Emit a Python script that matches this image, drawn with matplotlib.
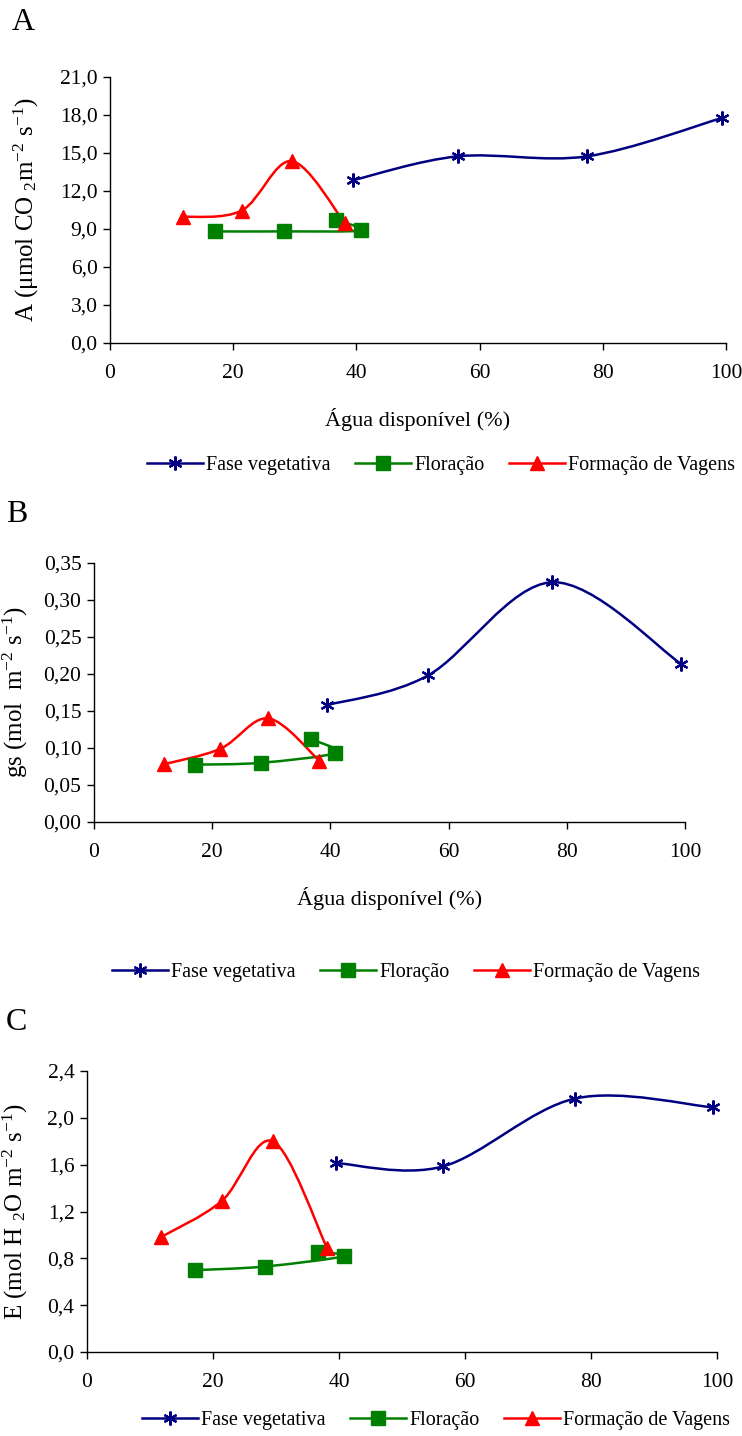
import matplotlib
matplotlib.use("Agg")
import matplotlib.pyplot as plt
from matplotlib.path import Path
from matplotlib.patches import PathPatch
from matplotlib.lines import Line2D
from matplotlib.ticker import FuncFormatter
import numpy as np

plt.rcParams['font.family'] = ['Liberation Serif', 'DejaVu Serif']
plt.rcParams['mathtext.default'] = 'regular'

# ---- data ----
series_names = ["Fase vegetativa", "Floração", "Formação de Vagens"]
x_veg = [39.5, 56.5, 77.5, 99.3]
x_flor = [17.1, 28.2, 40.8, 36.7]
x_vag = [11.8, 21.4, 29.5, 38.1]

A_veg = [12.86, 14.74, 14.74, 17.76]
A_flor = [8.81, 8.81, 8.89, 9.69]
A_vag = [9.95, 10.46, 14.36, 9.48]

gs_veg = [0.158, 0.198, 0.324, 0.214]
gs_flor = [0.0775, 0.080, 0.0935, 0.112]
gs_vag = [0.078, 0.099, 0.140, 0.083]

E_veg = [1.614, 1.585, 2.165, 2.09]
E_flor = [0.699, 0.730, 0.818, 0.855]
E_vag = [0.983, 1.29, 1.80, 0.889]

x_ticks = [0, 20, 40, 60, 80, 100]
A_ticks = [0, 3, 6, 9, 12, 15, 18, 21]
gs_ticks = [0, 0.05, 0.10, 0.15, 0.20, 0.25, 0.30, 0.35]
E_ticks = [0, 0.4, 0.8, 1.2, 1.6, 2.0, 2.4]

colors = ["#000080", "#008000", "#FF0000"]
markers = [(6, 2, 0), "s", "^"]
msizes = [10, 9.5, 10.5]


def smooth_path(xs, ys):
    P = np.column_stack([xs, ys]).astype(float)
    n = len(P)
    verts = [P[0]]
    codes = [Path.MOVETO]
    for i in range(n - 1):
        p0 = P[i - 1] if i > 0 else P[i]
        p1 = P[i]
        p2 = P[i + 1]
        p3 = P[i + 2] if i + 2 < n else P[i + 1]
        c1 = p1 + (p2 - p0) / 6.0
        c2 = p2 - (p3 - p1) / 6.0
        verts += [c1, c2, p2]
        codes += [Path.CURVE4] * 3
    return Path(verts, codes)


def panel(ax, ys_list, yticks, ylim, fmt, ylabel, xlabel):
    xs_list = [x_veg, x_flor, x_vag]
    for xs, ys, c, m, ms in zip(xs_list, ys_list, colors, markers, msizes):
        ax.add_patch(PathPatch(smooth_path(xs, ys), facecolor='none',
                               edgecolor=c, lw=1.8, clip_on=False))
        ax.plot(xs, ys, linestyle='none', marker=m, color=c, ms=ms,
                mew=1.6 if m == markers[0] else 1, clip_on=False)
    ax.set_xlim(0, 100)
    ax.set_ylim(*ylim)
    ax.set_xticks(x_ticks)
    ax.set_yticks(yticks)
    ax.yaxis.set_major_formatter(FuncFormatter(lambda v, p: fmt.format(v).replace('.', ',')))
    for s in ['top', 'right']:
        ax.spines[s].set_visible(False)
    for s in ['left', 'bottom']:
        ax.spines[s].set_linewidth(1.0)
    ax.tick_params(axis='both', direction='out', length=5, width=1, labelsize=15.5)
    ax.tick_params(axis='x', pad=10)
    ax.tick_params(axis='y', pad=4)
    ax.set_ylabel(ylabel, fontsize=18)
    if xlabel:
        ax.set_xlabel(xlabel, fontsize=16, labelpad=18)


fig = plt.figure(figsize=(7.42, 14.36), dpi=100)
W, H = 742.0, 1436.0


def axes_px(left, right, top, bottom):
    return fig.add_axes([left / W, 1 - bottom / H, (right - left) / W, (bottom - top) / H])


axA = axes_px(110, 726, 77, 343)
panel(axA, [A_veg, A_flor, A_vag], A_ticks, (0, 21), "{:.1f}",
      r"A ($\mu$mol CO$_{\ 2}$m$^{-2}$ s$^{-1}$)", "Água disponível (%)")
axB = axes_px(94, 685, 563, 822)
panel(axB, [gs_veg, gs_flor, gs_vag], gs_ticks, (0, 0.35), "{:.2f}",
      r"gs (mol  m$^{-2}$ s$^{-1}$)", "Água disponível (%)")
axC = axes_px(87, 717, 1071, 1352)
panel(axC, [E_veg, E_flor, E_vag], E_ticks, (0, 2.4), "{:.1f}",
      r"E (mol H $_{2}$O m$^{-2}$ s$^{-1}$)", None)

# y-label centres in pixels from left edge
for ax, (l, r), xc in [(axA, (110, 726), 26), (axB, (94, 685), 15), (axC, (87, 717), 15)]:
    ax.yaxis.set_label_coords((xc - l) / (r - l), 0.5)
    ax.yaxis.label.set_va('center')

handles = [Line2D([0], [0], color=c, marker=m, ms=ms, lw=1.8,
                  mew=1.6 if m == markers[0] else 1)
           for c, m, ms in zip(colors, markers, msizes)]

for ycen, xleft in [(465, 147), (972, 112), (1420, 142)]:
    fig.legend(handles, series_names, loc='center left', ncol=3, frameon=False,
               bbox_to_anchor=(xleft / W, 1 - ycen / H), fontsize=14.5,
               handlelength=2.8, handletextpad=0.15, columnspacing=1.2,
               borderaxespad=0, borderpad=0)

for lab, (x, y) in zip(["A", "B", "C"], [(12, 22), (6, 515), (6, 1022)]):
    fig.text(x / W, 1 - y / H, lab, fontsize=23, va='center', ha='left')

fig.savefig("out.png", dpi=100)
